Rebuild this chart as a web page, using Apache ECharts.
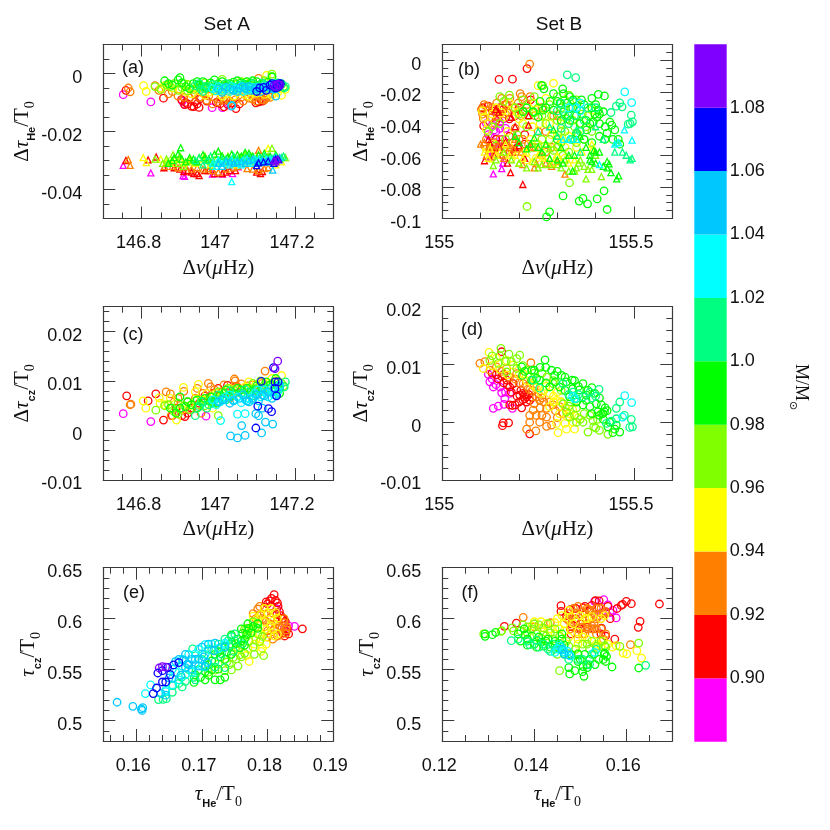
<!DOCTYPE html>
<html>
<head>
<meta charset="utf-8">
<title>Set A / Set B</title>
<style>
  html, body { margin: 0; padding: 0; background: #fff; }
  #chart { width: 830px; height: 830px; }
</style>
<script src="https://cdn.jsdelivr.net/npm/echarts@6/dist/echarts.min.js"></script>
</head>
<body>
<div id="chart"></div>
<script>
// mass bins, lowest first; every panel list below has one row per bin
const massColors = ["#ff00ff", "#ff0000", "#ff8000", "#ffff00", "#80ff00", "#00ff00", "#00ff80", "#00ffff", "#00c8ff", "#0000ff", "#8000ff"]
const massBinTops = [0.90, 0.02, 0.02, 0.02, 0.02, 0.02, 0.02, 0.02, 0.02, 0.02, 0.02]
const massTicks = [0.90, 0.92, 0.94, 0.96, 0.98, 1.00, 1.02, 1.04, 1.06, 1.08]
const massTickLabels = ["0.90", "0.92", "0.94", "0.96", "0.98", "1.0", "1.02", "1.04", "1.06", "1.08"]

// axis ticks
const setAXTicks = [146.8, 147, 147.2]
const setAXMinor = [146.75, 146.8, 146.85, 146.9, 146.95, 147, 147.05, 147.1, 147.15, 147.2, 147.25]
const setBXTicks = [155, 155.5]
const setBXMinor = [155.1, 155.2, 155.3, 155.4, 155.5]
const aYTicks = [-0.04, -0.02, 0]
const aYMinor = [-0.045, -0.04, -0.035, -0.03, -0.025, -0.02, -0.015, -0.01, -0.005, 0, 0.005]
const bYTicks = [-0.1, -0.08, -0.06, -0.04, -0.02, 0]
const bYMinor = [-0.095, -0.09, -0.085, -0.08, -0.075, -0.07, -0.065, -0.06, -0.055, -0.05, -0.045, -0.04, -0.035, -0.03, -0.025, -0.02, -0.015, -0.01, -0.005, 0, 0.005]
const cYTicks = [-0.01, 0, 0.01, 0.02]
const cYMinor = [-0.008, -0.006, -0.004, -0.002, 0, 0.002, 0.004, 0.006, 0.008, 0.01, 0.012, 0.014, 0.016, 0.018, 0.02, 0.022, 0.024]
const dYTicks = [-0.01, 0, 0.01, 0.02]
const dYMinor = [-0.008, -0.006, -0.004, -0.002, 0, 0.002, 0.004, 0.006, 0.008, 0.01, 0.012, 0.014, 0.016, 0.018]
const eXTicks = [0.16, 0.17, 0.18, 0.19]
const eXMinor = [0.156, 0.158, 0.16, 0.162, 0.164, 0.166, 0.168, 0.17, 0.172, 0.174, 0.176, 0.178, 0.18, 0.182, 0.184, 0.186, 0.188]
const fXTicks = [0.12, 0.14, 0.16]
const fXMinor = [0.125, 0.13, 0.135, 0.14, 0.145, 0.15, 0.155, 0.16, 0.165]
const tauCzTicks = [0.5, 0.55, 0.6, 0.65]
const tauCzMinor = [0.49, 0.5, 0.51, 0.52, 0.53, 0.54, 0.55, 0.56, 0.57, 0.58, 0.59, 0.6, 0.61, 0.62, 0.63, 0.64]

// (a) delta nu, delta tau He
const aCircles = [
  [[146.752,-.0073],[146.824,-.0098],[146.906,-.0095],[146.912,-.0106],[146.984,-.0118],[147.011,-.0118],[147.033,-.0112]],
  [[146.759,-.0058],[146.857,-.0085],[146.904,-.009],[146.914,-.01],[146.93,-.0113],[146.936,-.0114],[146.95,-.0117],[146.952,-.0087],[146.995,-.01],[147.024,-.0106],[147.035,-.0102],[147.046,-.0121],[147.005,-.0104],[147.098,-.0101],[147.106,-.0098],[147.115,-.0095],[146.912,-.0107],[146.945,-.0105],[146.92,-.0105],[146.94,-.0098],[146.97,-.0095],[147.015,-.0115],[147.055,-.0105],[147.11,-.0088]],
  [[146.765,-.005],[146.77,-.0063],[146.835,-.0042],[146.845,-.0058],[146.87,-.007],[146.91,-.0082],[146.96,-.0068],[146.975,-.0078],[146.985,-.0105],[147,-.0098],[147.015,-.0092],[147.03,-.0095],[147.045,-.009],[147.06,-.0082],[147.075,-.0078],[147.09,-.0088],[147.1,-.0095],[147.115,-.009],[147.125,-.0085],[147.135,-.0082],[147.105,-.0017],[147.085,-.007],[147.005,-.0088],[146.94,-.0072],[146.88,-.0062],[146.895,-.0078],[146.925,-.0085],[146.95,-.0082],[146.97,-.0092],[147.02,-.0085],[147.04,-.0082],[147.065,-.0095],[147.08,-.0085],[147.095,-.008],[147.11,-.0078],[147.12,-.0092],[147.13,-.0075]],
  [[146.805,-.0042],[146.812,-.0062],[146.88,-.005],[146.9,-.0055],[146.93,-.007],[146.965,-.0075],[147,-.0062],[147.02,-.007],[147.04,-.0078],[147.07,-.0072],[147.09,-.0065],[147.12,-.0072],[147.15,-.0058],[147.165,-.0075],[147.126,-.0006],[147.05,-.0065],[146.95,-.006],[146.86,-.0042],[147.175,-.0055],[147.11,-.0058],[146.85,-.005],[146.87,-.0038],[146.915,-.0062],[146.945,-.0052],[146.975,-.0065],[146.99,-.0055],[147.01,-.0078],[147.03,-.006],[147.06,-.0062],[147.08,-.0078],[147.1,-.0068],[147.135,-.0065],[147.14,-.0075],[147.155,-.0065]],
  [[146.835,-.0045],[146.85,-.0055],[146.865,-.004],[146.885,-.0035],[146.905,-.0048],[146.92,-.0038],[146.935,-.0055],[146.955,-.0048],[146.975,-.004],[146.99,-.006],[147.01,-.002],[147.03,-.0045],[147.045,-.0038],[147.07,-.003],[147.085,-.005],[147.1,-.0042],[147.12,-.0025],[147.14,-.0002],[147.155,-.005],[147.17,-.0045],[147.14,-.001],[146.92,-.006],[146.875,-.0045],[146.895,-.0058],[146.91,-.0035],[146.945,-.0045],[146.965,-.0032],[146.995,-.0045],[147.015,-.0038],[147.05,-.005],[147.06,-.0028],[147.08,-.0038],[147.11,-.0052],[147.13,-.0045],[147.145,-.0055],[147.165,-.0038]],
  [[146.86,-.0025],[146.88,-.004],[146.895,-.0022],[146.9,-.0014],[146.915,-.0045],[146.935,-.0035],[146.95,-.004],[146.96,-.0028],[146.99,-.0022],[147,-.0035],[147.02,-.0042],[147.04,-.003],[147.06,-.0032],[147.075,-.0028],[147.09,-.0025],[147.11,-.0038],[147.13,-.003],[146.97,-.005],[147.14,-.0012],[146.87,-.0035],[146.905,-.0032],[146.925,-.0052],[146.945,-.0028],[146.965,-.0045],[146.98,-.0032],[147.01,-.0028],[147.03,-.0035],[147.05,-.0025],[147.07,-.0038],[147.085,-.0032],[147.1,-.0028],[147.12,-.0045],[147.15,-.0035]],
  [[146.94,-.0042],[146.955,-.0055],[146.97,-.0045],[146.985,-.0038],[147,-.005],[147.02,-.0035],[147.035,-.0052],[147.055,-.004],[147.07,-.005],[147.09,-.0035],[147.105,-.0045],[147.12,-.0038],[147.14,-.004],[147.155,-.0032],[147.175,-.0045],[147.172,-.005],[146.96,-.0062],[146.95,-.0035],[146.965,-.0052],[146.98,-.0048],[146.995,-.0042],[147.01,-.0055],[147.03,-.0042],[147.045,-.0048],[147.065,-.0038],[147.08,-.0045],[147.095,-.0052],[147.115,-.0032],[147.13,-.0048],[147.15,-.0048],[147.165,-.0035]],
  [[146.985,-.0052],[147,-.0045],[147.02,-.0052],[147.035,-.0045],[147.05,-.0055],[147.06,-.0045],[147.075,-.0058],[147.09,-.0048],[147.105,-.0055],[147.12,-.0045],[147.135,-.005],[147.15,-.0042],[147.035,-.0112],[146.995,-.006],[147.01,-.0058],[147.03,-.0062],[147.045,-.0052],[147.065,-.0062],[147.08,-.0052],[147.095,-.0058],[147.115,-.0052],[147.13,-.0045],[147.145,-.0035]],
  [[147,-.0055],[147.02,-.0048],[147.04,-.0058],[147.055,-.005],[147.07,-.0052],[147.085,-.0058],[147.1,-.0048],[147.115,-.005],[147.13,-.0055],[147.145,-.0046],[147.15,-.0078],[147.16,-.004],[147.035,-.011],[147.01,-.0065],[147.03,-.0055],[147.05,-.0062],[147.065,-.0045],[147.08,-.0045],[147.095,-.0052],[147.11,-.0062],[147.125,-.0045],[147.14,-.0052],[147.155,-.0038]],
  [[147.1,-.0062],[147.108,-.005],[147.118,-.0048],[147.125,-.0058],[147.135,-.004],[147.145,-.0042],[147.152,-.0038],[147.16,-.0042],[147.148,-.005],[147.155,-.0048],[147.162,-.0035],[147.14,-.0035],[147.15,-.0045],[147.158,-.0035]],
  [[147.145,-.0042],[147.155,-.0038],[147.15,-.0045],[147.16,-.004]]
]
const aTriangles = [
  [[146.752,-.0317],[146.824,-.0343],[146.908,-.0352],[146.912,-.0355],[146.985,-.0347],[147.011,-.0347],[147.037,-.0345],[147.052,-.0322]],
  [[146.759,-.03],[146.817,-.0298],[146.838,-.0288],[146.858,-.0325],[146.885,-.0325],[146.91,-.0338],[146.93,-.034],[146.936,-.0345],[146.95,-.0352],[146.965,-.0335],[146.99,-.0345],[147.01,-.0345],[147.03,-.0335],[147.045,-.0335],[147.1,-.034],[147.115,-.0338],[146.9,-.033],[146.92,-.0335],[146.945,-.0345],[146.975,-.0335],[147.02,-.034],[147.11,-.0345]],
  [[146.765,-.0297],[146.77,-.0317],[146.86,-.032],[146.93,-.033],[146.985,-.0335],[147,-.034],[147.05,-.032],[147.105,-.0335],[147.105,-.0265],[147.13,-.0325],[146.975,-.0328],[147.075,-.0328],[146.915,-.0322],[146.88,-.032],[146.895,-.0325],[146.945,-.0325],[146.96,-.033],[147.02,-.033],[147.04,-.0325],[147.09,-.033],[147.12,-.0328]],
  [[146.804,-.029],[146.812,-.0307],[146.85,-.0295],[146.875,-.031],[146.9,-.0295],[146.94,-.031],[146.96,-.0295],[147,-.03],[147.03,-.0305],[147.06,-.0295],[147.09,-.0305],[147.13,-.0258],[147.165,-.0305],[147.12,-.03],[146.92,-.0305],[146.865,-.0305],[146.885,-.0295],[146.91,-.031],[146.93,-.03],[146.98,-.0315],[147.015,-.031],[147.045,-.0315],[147.075,-.0305],[147.105,-.031],[147.14,-.0305],[147.15,-.0315]],
  [[146.835,-.0295],[146.855,-.031],[146.87,-.0305],[146.882,-.028],[146.91,-.032],[146.925,-.03],[146.95,-.029],[146.98,-.0305],[147.01,-.0285],[147.04,-.03],[147.07,-.028],[147.1,-.029],[147.14,-.0258],[147.155,-.029],[147.175,-.029],[146.895,-.031],[146.865,-.0295],[146.9,-.0285],[146.94,-.0305],[146.965,-.0285],[146.995,-.0295],[147.025,-.0285],[147.055,-.029],[147.085,-.0285],[147.115,-.0295],[147.13,-.0285],[147.16,-.0295]],
  [[146.87,-.031],[146.885,-.029],[146.902,-.0256],[146.895,-.0278],[146.915,-.0305],[146.935,-.0295],[146.96,-.028],[146.975,-.0295],[146.99,-.0278],[147,-.0268],[147.025,-.029],[147.05,-.028],[147.07,-.0272],[147.09,-.0285],[147.12,-.0275],[147.15,-.028],[146.88,-.03],[146.905,-.0295],[146.925,-.029],[146.945,-.0305],[146.965,-.029],[147.01,-.0285],[147.035,-.0278],[147.06,-.0285],[147.08,-.0275],[147.105,-.028],[147.135,-.0285]],
  [[146.94,-.03],[146.96,-.0315],[146.98,-.0285],[147,-.0305],[147.02,-.0295],[147.04,-.0285],[147.06,-.03],[147.08,-.0285],[147.1,-.0298],[147.12,-.0285],[147.14,-.0292],[147.17,-.0285],[146.985,-.032],[146.95,-.029],[146.97,-.03],[146.99,-.031],[147.01,-.0295],[147.03,-.03],[147.05,-.0295],[147.07,-.029],[147.09,-.03],[147.11,-.029],[147.13,-.0295],[147.15,-.0285],[147.165,-.029]],
  [[146.985,-.031],[147,-.0298],[147.02,-.0308],[147.035,-.0298],[147.05,-.031],[147.065,-.0298],[147.08,-.0305],[147.095,-.0295],[147.11,-.0305],[147.125,-.0295],[147.14,-.03],[147.035,-.0373],[146.995,-.032],[147.01,-.031],[147.03,-.0315],[147.045,-.0305],[147.06,-.0315],[147.075,-.0295],[147.09,-.031],[147.105,-.0295],[147.12,-.0305],[147.135,-.0295],[147.15,-.029]],
  [[147,-.031],[147.02,-.0302],[147.04,-.031],[147.06,-.0305],[147.08,-.03],[147.1,-.031],[147.115,-.0298],[147.135,-.0305],[147.15,-.0295],[147.142,-.0333],[147.16,-.029],[147.01,-.032],[147.03,-.0305],[147.05,-.0305],[147.07,-.031],[147.09,-.0295],[147.105,-.0305],[147.125,-.0305],[147.145,-.0295]],
  [[147.1,-.0318],[147.105,-.0308],[147.118,-.0305],[147.13,-.0302],[147.145,-.03],[147.15,-.0295],[147.158,-.0298],[147.145,-.031]],
  [[147.145,-.03],[147.155,-.0295],[147.15,-.0305]]
]

// (b) delta nu, delta tau He
const bCircles = [
  [[155.13,-.041],[155.125,-.048],[155.14,-.045],[155.15,-.039],[155.16,-.037],[155.135,-.052],[155.12,-.047],[155.145,-.057],[155.165,-.043],[155.13,-.036],[155.115,-.04],[155.135,-.044],[155.15,-.043],[155.155,-.05]],
  [[155.221,-.0052],[155.148,-.0121],[155.183,-.0119],[155.108,-.0415],[155.13,-.032],[155.15,-.03],[155.165,-.028],[155.14,-.038],[155.125,-.055],[155.15,-.053],[155.175,-.048],[155.19,-.035],[155.2,-.055],[155.215,-.047],[155.23,-.025],[155.17,-.033],[155.16,-.06],[155.105,-.03],[155.12,-.029],[155.14,-.033],[155.145,-.036],[155.16,-.031],[155.175,-.037],[155.14,-.05],[155.165,-.053],[155.18,-.056],[155.2,-.03],[155.215,-.053],[155.135,-.057]],
  [[155.228,-.0024],[155.102,-.031],[155.109,-.028],[155.142,-.027],[155.155,-.024],[155.176,-.024],[155.203,-.021],[155.207,-.023],[155.107,-.037],[155.12,-.032],[155.146,-.035],[155.168,-.028],[155.198,-.027],[155.211,-.032],[155.137,-.04],[155.229,-.023],[155.242,-.035],[155.11,-.054],[155.125,-.057],[155.15,-.05],[155.175,-.058],[155.2,-.05],[155.225,-.053],[155.25,-.045],[155.27,-.058],[155.29,-.035],[155.135,-.06],[155.19,-.043],[155.105,-.034],[155.115,-.029],[155.125,-.036],[155.13,-.03],[155.155,-.03],[155.165,-.034],[155.185,-.03],[155.205,-.035],[155.22,-.028],[155.115,-.05],[155.13,-.052],[155.165,-.055],[155.185,-.052],[155.21,-.05],[155.24,-.055],[155.26,-.03],[155.27,-.045],[155.285,-.055],[155.3,-.035]],
  [[155.12,-.04],[155.11,-.036],[155.13,-.034],[155.16,-.036],[155.18,-.032],[155.2,-.037],[155.22,-.03],[155.24,-.027],[155.25,-.016],[155.27,-.024],[155.29,-.0145],[155.17,-.045],[155.19,-.052],[155.15,-.057],[155.125,-.062],[155.21,-.058],[155.235,-.042],[155.26,-.05],[155.28,-.04],[155.3,-.047],[155.32,-.055],[155.245,-.062],[155.22,-.063],[155.39,-.0315],[155.3,-.062],[155.27,-.065],[155.105,-.032],[155.115,-.044],[155.14,-.03],[155.155,-.033],[155.175,-.027],[155.195,-.033],[155.21,-.04],[155.225,-.035],[155.245,-.031],[155.255,-.04],[155.27,-.035],[155.285,-.047],[155.31,-.04],[155.33,-.048],[155.115,-.056],[155.135,-.053],[155.165,-.058],[155.18,-.062],[155.2,-.056],[155.23,-.05],[155.25,-.053],[155.275,-.055],[155.3,-.054],[155.32,-.062],[155.35,-.055]],
  [[155.15,-.04],[155.13,-.042],[155.15,-.023],[155.175,-.022],[155.19,-.03],[155.21,-.025],[155.165,-.05],[155.14,-.054],[155.195,-.047],[155.22,-.042],[155.24,-.023],[155.26,-.035],[155.28,-.028],[155.262,-.016],[155.3,-.038],[155.31,-.03],[155.33,-.022],[155.32,-.045],[155.34,-.05],[155.35,-.03],[155.36,-.04],[155.332,-.0774],[155.221,-.0924],[155.25,-.055],[155.28,-.05],[155.3,-.055],[155.315,-.06],[155.37,-.05],[155.38,-.035],[155.35,-.025],[155.26,-.06],[155.345,-.042],[155.12,-.045],[155.16,-.026],[155.2,-.034],[155.225,-.035],[155.25,-.03],[155.27,-.04],[155.285,-.035],[155.3,-.023],[155.31,-.045],[155.32,-.025],[155.325,-.037],[155.335,-.03],[155.34,-.038],[155.355,-.047],[155.365,-.034],[155.375,-.042],[155.39,-.045],[155.235,-.055],[155.26,-.05],[155.29,-.057],[155.31,-.052],[155.33,-.058],[155.35,-.052],[155.24,-.033]],
  [[155.259,-.0158],[155.265,-.018],[155.29,-.021],[155.314,-.018],[155.316,-.021],[155.333,-.023],[155.363,-.025],[155.39,-.024],[155.407,-.0215],[155.423,-.0225],[155.407,-.0315],[155.42,-.0325],[155.398,-.034],[155.403,-.036],[155.394,-.039],[155.437,-.039],[155.442,-.041],[155.45,-.044],[155.424,-.05],[155.459,-.05],[155.463,-.053],[155.29,-.0315],[155.263,-.0315],[155.237,-.0325],[155.211,-.0325],[155.316,-.0325],[155.333,-.038],[155.359,-.04],[155.377,-.044],[155.35,-.046],[155.329,-.035],[155.281,-.026],[155.255,-.026],[155.307,-.027],[155.359,-.0315],[155.341,-.025],[155.385,-.04],[155.315,-.0857],[155.357,-.089],[155.367,-.0873],[155.379,-.0907],[155.404,-.0876],[155.422,-.0825],[155.43,-.0943],[155.28,-.0958],[155.272,-.099],[155.22,-.03],[155.25,-.036],[155.27,-.03],[155.3,-.026],[155.31,-.038],[155.325,-.027],[155.34,-.03],[155.35,-.035],[155.37,-.028],[155.375,-.038],[155.39,-.03],[155.4,-.028],[155.41,-.034],[155.41,-.04],[155.425,-.042],[155.37,-.05],[155.39,-.052],[155.41,-.048],[155.43,-.046],[155.445,-.05],[155.3,-.05]],
  [[155.326,-.0092],[155.348,-.0109],[155.454,-.029],[155.463,-.0269],[155.469,-.0294],[155.493,-.0347],[155.496,-.0389],[155.485,-.0404],[155.3,-.032],[155.32,-.035],[155.34,-.026],[155.36,-.045],[155.38,-.03],[155.44,-.033],[155.49,-.04],[155.31,-.027],[155.33,-.04],[155.345,-.035],[155.37,-.038],[155.4,-.03],[155.335,-.05],[155.31,-.043]],
  [[155.476,-.0199],[155.494,-.0267],[155.36,-.027],[155.35,-.03],[155.33,-.03],[155.36,-.032]],
  [], [], []
]
const bTriangles = [
  [[155.133,-.0718],[155.155,-.0685],[155.158,-.065],[155.13,-.058],[155.145,-.055],[155.125,-.061]],
  [[155.11,-.0635],[155.178,-.071],[155.21,-.0785],[155.147,-.0328],[155.18,-.036],[155.225,-.041],[155.12,-.05],[155.15,-.055],[155.185,-.058],[155.135,-.06],[155.215,-.062],[155.2,-.054],[155.17,-.065],[155.225,-.035],[155.13,-.055],[155.165,-.052],[155.19,-.055],[155.14,-.031],[155.19,-.042]],
  [[155.1,-.053],[155.11,-.052],[155.12,-.055],[155.145,-.054],[155.175,-.055],[155.24,-.068],[155.19,-.05],[155.245,-.065],[155.285,-.067],[155.21,-.066],[155.13,-.061],[155.23,-.055],[155.32,-.072],[155.16,-.062],[155.115,-.06],[155.135,-.056],[155.155,-.06],[155.185,-.056],[155.205,-.058],[155.255,-.06],[155.27,-.065],[155.3,-.064]],
  [[155.11,-.058],[155.125,-.056],[155.165,-.053],[155.19,-.06],[155.22,-.058],[155.25,-.06],[155.28,-.062],[155.3,-.06],[155.39,-.053],[155.39,-.057],[155.14,-.06],[155.33,-.065],[155.2,-.065],[155.31,-.05],[155.12,-.062],[155.15,-.058],[155.175,-.06],[155.21,-.062],[155.235,-.064],[155.265,-.062],[155.29,-.065],[155.345,-.063],[155.365,-.058]],
  [[155.133,-.0665],[155.14,-.063],[155.2,-.065],[155.22,-.068],[155.26,-.066],[155.3,-.066],[155.36,-.063],[155.38,-.069],[155.375,-.075],[155.35,-.068],[155.28,-.056],[155.32,-.063],[155.345,-.07],[155.4,-.06],[155.415,-.0735],[155.16,-.058],[155.18,-.063],[155.24,-.064],[155.25,-.068],[155.28,-.066],[155.31,-.068],[155.33,-.07],[155.355,-.065],[155.37,-.067],[155.39,-.069]],
  [[155.19,-.048],[155.22,-.056],[155.25,-.055],[155.27,-.053],[155.29,-.044],[155.31,-.055],[155.315,-.065],[155.34,-.07],[155.385,-.06],[155.395,-.057],[155.41,-.058],[155.39,-.064],[155.43,-.064],[155.435,-.0655],[155.44,-.071],[155.455,-.075],[155.46,-.073],[155.24,-.049],[155.36,-.048],[155.4,-.065],[155.345,-.06],[155.2,-.052],[155.23,-.053],[155.26,-.058],[155.28,-.062],[155.3,-.063],[155.33,-.06],[155.385,-.063],[155.4,-.058],[155.375,-.055],[155.42,-.067],[155.43,-.068]],
  [[155.28,-.042],[155.3,-.048],[155.34,-.05],[155.36,-.058],[155.4,-.042],[155.45,-.058],[155.48,-.06],[155.49,-.063],[155.495,-.062],[155.47,-.058],[155.455,-.052],[155.42,-.05],[155.35,-.044],[155.25,-.045]],
  [[155.475,-.044],[155.495,-.0505],[155.46,-.052],[155.35,-.05],[155.33,-.05],[155.315,-.05],[155.45,-.053],[155.41,-.066]],
  [], [], []
]

// (c) delta nu, delta tau cz
const cCircles = [
  [[146.752,.0034],[146.824,.0018],[146.968,.0029]],
  [[146.761,.007],[146.817,.006],[146.837,.0074],[146.857,.0021],[146.913,.0028],[146.905,.003],[146.93,.0045],[146.985,.0075],[147.024,.0091],[147.046,.0089],[146.88,.003],[147,.0085],[147.12,.0088],[146.89,.0045],[146.92,.0035],[146.95,.0055],[146.965,.007],[147.01,.0078],[147.035,.0075]],
  [[146.77,.0052],[146.772,.0053],[146.864,.0078],[146.875,.0074],[146.877,.003],[146.91,.0079],[146.94,.0065],[146.955,.0035],[146.974,.0095],[146.98,.0088],[147.042,.0104],[147.044,.01],[147.122,.012],[147.06,.0094],[147.09,.0092],[147,.006],[146.93,.0042],[147.03,.0065],[146.885,.0058],[146.895,.0065],[146.92,.0058],[146.945,.0085],[146.96,.0075],[146.99,.0082],[147.015,.0092],[147.05,.0088],[147.075,.009],[147.105,.0078],[147.115,.0095]],
  [[146.804,.006],[146.811,.0045],[146.846,.0066],[146.848,.0055],[146.891,.0021],[146.909,.0087],[146.948,.0093],[147.165,.0111],[147.15,.01],[146.97,.0075],[146.925,.005],[147.01,.0075],[147.05,.008],[147.095,.0085],[147.115,.0098],[146.985,.0045],[146.86,.0052],[146.875,.0065],[146.905,.0042],[146.94,.0078],[146.955,.0062],[146.98,.0058],[146.995,.0075],[147.03,.0085],[147.07,.0088],[147.08,.0098],[147.13,.0095],[147.14,.0105]],
  [[146.837,.0041],[146.86,.005],[146.88,.0045],[146.895,.0055],[146.91,.005],[146.895,.0033],[146.94,.006],[146.965,.005],[147,.003],[147.025,.0085],[147.06,.0075],[147.09,.0095],[147.11,.01],[147.13,.009],[147.155,.01],[147.17,.009],[146.985,.0068],[146.87,.0052],[146.885,.0038],[146.925,.0042],[146.95,.0052],[146.975,.0062],[147,.0078],[147.015,.0068],[147.04,.0082],[147.08,.0085],[147.1,.0085],[147.12,.0092],[147.145,.0098],[147.165,.0095]],
  [[146.875,.0045],[146.89,.0035],[146.9,.0068],[146.915,.0048],[146.93,.0052],[146.96,.0058],[146.98,.0068],[146.995,.0055],[147.015,.0075],[147.03,.0068],[147.05,.0085],[147.07,.0072],[147.085,.0078],[147.1,.009],[147.125,.0098],[147.15,.0105],[147.16,.0075],[146.945,.0045],[147.16,.0085],[146.9,.0045],[146.92,.0058],[146.945,.0062],[146.965,.0065],[146.985,.0058],[147.005,.007],[147.02,.0082],[147.04,.0075],[147.06,.0082],[147.075,.0085],[147.095,.0082],[147.115,.0085],[147.135,.0092],[147.155,.009]],
  [[146.94,.003],[146.95,.0048],[146.975,.0052],[146.99,.0062],[147.01,.0065],[147.03,.008],[147.05,.0068],[147.07,.0082],[147.09,.007],[147.11,.0078],[147.13,.0085],[147.15,.008],[147.175,.0098],[147.172,.0088],[146.955,.0058],[146.97,.0045],[146.985,.0055],[147,.0072],[147.02,.0062],[147.04,.0072],[147.06,.0075],[147.08,.0078],[147.1,.0082],[147.12,.0082],[147.14,.0078],[147.16,.0085]],
  [[146.985,.0062],[147.005,.0058],[147.02,.0068],[147.04,.0062],[147.06,.0056],[147.08,.0065],[147.095,.0075],[147.11,.0068],[147.125,.0075],[147.14,.0085],[147.155,.0078],[147.006,.002],[147.05,.0033],[147.07,.0034],[146.995,.0052],[147.015,.0062],[147.03,.0072],[147.05,.0068],[147.07,.0062],[147.09,.0062],[147.105,.0082],[147.12,.0082],[147.13,.0068],[147.145,.0072],[147.16,.0092]],
  [[147.032,-.0011],[147.05,-.0015],[147.07,-.001],[147.061,.001],[147.113,-.0005],[147.142,.0013],[147.123,.0017],[147.098,.0034],[147.105,.003],[147,.0058],[147.03,.0055],[147.055,.0065],[147.075,.006],[147.09,.0065],[147.105,.006],[147.12,.007],[147.14,.0065],[147.15,.0072],[147.115,.0045],[147.01,.0062],[147.04,.006],[147.065,.0072],[147.08,.0058],[147.1,.0072],[147.115,.0072],[147.13,.0078],[147.145,.0085],[147.16,.0088]],
  [[147.112,.0099],[147.098,.0005],[147.103,.0049],[147.131,.0044],[147.139,.0038],[147.144,.0127],[147.148,.0085],[147.152,.007],[147.148,.0098],[147.156,.0098]],
  [[147.155,.014],[147.148,.0125]]
]

// (d) delta nu, delta tau cz
const dCircles = [
  [[155.12,.0083],[155.124,.007],[155.133,.0061],[155.155,.0051],[155.133,.0024],[155.146,.0028],[155.161,.0031],[155.163,.0041],[155.183,.0024],[155.176,.005],[155.15,.0061],[155.13,.0075],[155.14,.0065],[155.165,.0052]],
  [[155.159,-.0001],[155.157,-.0006],[155.173,-.0001],[155.183,.0029],[155.207,.0025],[155.228,-.002],[155.22,.0044],[155.155,.0079],[155.168,.0073],[155.185,.0067],[155.194,.0056],[155.202,.0047],[155.215,.0041],[155.155,.0122],[155.141,.0082],[155.176,.0061],[155.211,.005],[155.228,.0038],[155.176,.003],[155.13,.0085],[155.145,.0075],[155.16,.0068],[155.17,.0065],[155.18,.0052],[155.195,.0045],[155.205,.0055],[155.215,.0048],[155.22,.0035],[155.2,.0035],[155.19,.003],[155.235,.0043],[155.16,.0083],[155.21,.0039],[155.225,.0048]],
  [[155.098,.0102],[155.111,.0105],[155.124,.009],[155.231,.0103],[155.22,-.0012],[155.244,-.0015],[155.272,-.0007],[155.285,-.0005],[155.254,0],[155.228,0],[155.228,.0012],[155.237,.0021],[155.254,.0038],[155.272,.0024],[155.272,.0009],[155.289,.003],[155.306,.0027],[155.315,.0015],[155.211,.0067],[155.228,.0056],[155.246,.0044],[155.194,.0084],[155.168,.0093],[155.141,.0096],[155.155,.0088],[155.175,.0078],[155.19,.0075],[155.2,.0068],[155.22,.0062],[155.235,.0055],[155.25,.005],[155.26,.0042],[155.24,.0032],[155.255,.0025],[155.26,.0012],[155.28,.0035],[155.295,.002],[155.31,.0035],[155.24,.0062],[155.23,.0068],[155.265,.0035],[155.245,.0012],[155.3,.0008]],
  [[155.122,.0121],[155.107,.0093],[155.302,-.0018],[155.324,-.0012],[155.345,-.0012],[155.341,0],[155.32,-.0002],[155.298,-.0002],[155.332,.0015],[155.28,.005],[155.298,.0038],[155.258,.005],[155.237,.0064],[155.28,.0027],[155.306,.0015],[155.168,.0107],[155.141,.0111],[155.185,.0099],[155.228,.0079],[155.211,.0084],[155.13,.0098],[155.15,.0092],[155.17,.0082],[155.2,.0082],[155.22,.0072],[155.245,.006],[155.265,.0055],[155.27,.0062],[155.29,.0045],[155.31,.0035],[155.32,.0025],[155.29,.0035],[155.325,.001],[155.355,.0008],[155.34,.0022],[155.3,.0052]],
  [[155.153,.0128],[155.174,.0118],[155.202,.0116],[155.194,.011],[155.22,.009],[155.38,-.0017],[155.41,-.0014],[155.432,-.0021],[155.367,0],[155.393,.0003],[155.332,.0009],[155.35,0],[155.324,.0018],[155.272,.0078],[155.289,.0067],[155.124,.0107],[155.146,.0102],[155.168,.0087],[155.194,.0093],[155.315,.0032],[155.415,.0015],[155.13,.0115],[155.15,.0115],[155.165,.0105],[155.18,.0105],[155.21,.0098],[155.24,.0085],[155.26,.0085],[155.29,.0072],[155.31,.0055],[155.335,.0035],[155.35,.0025],[155.37,.0015],[155.385,.0012],[155.405,.0005],[155.4,-.001],[155.36,.0005],[155.33,.0028],[155.345,.0012],[155.395,-.0008]],
  [[155.207,.0096],[155.209,.0081],[155.233,.009],[155.246,.0076],[155.268,.0108],[155.285,.009],[155.293,.0081],[155.311,.0081],[155.324,.007],[155.339,.0073],[155.367,.0067],[155.358,.0056],[155.376,.0047],[155.398,.005],[155.402,.0032],[155.406,.0018],[155.423,.0018],[155.419,.0015],[155.385,.0027],[155.367,.003],[155.35,.0035],[155.332,.0044],[155.306,.0061],[155.28,.0061],[155.254,.0073],[155.233,.0073],[155.437,0],[155.454,-.0005],[155.463,-.0017],[155.445,-.0018],[155.432,-.0008],[155.215,.0088],[155.24,.009],[155.255,.0095],[155.27,.0095],[155.3,.0088],[155.32,.0078],[155.345,.0072],[155.355,.0062],[155.38,.0055],[155.39,.006],[155.41,.0042],[155.415,.003],[155.425,.0025],[155.41,.0012],[155.39,.0015],[155.375,.0038],[155.34,.0058],[155.32,.0055],[155.295,.007],[155.27,.0068],[155.43,.002],[155.42,.0005],[155.45,-.0012]],
  [[155.454,.0024],[155.463,.0035],[155.493,.0005],[155.489,-.0009],[155.496,-.0008],[155.454,.0006],[155.441,.0002],[155.428,-.0002],[155.409,.0057],[155.385,.0052],[155.35,.0041],[155.367,.0044],[155.341,.0052],[155.315,.0067],[155.254,.0059],[155.237,.0073],[155.33,.0048],[155.355,.0048],[155.39,.0042],[155.4,.0045],[155.475,.0012]],
  [[155.476,.0046],[155.494,.0034],[155.47,.0009],[155.345,.0041],[155.34,.0045]],
  [], [], []
]

// (e) tau He, tau cz
const eCircles = [
  [[.1814,.6095],[.1841,.5925],[.1825,.5895],[.1832,.593]],
  [[.1853,.59],[.181,.6235],[.1803,.6175],[.1798,.6165],[.1812,.618],[.1816,.612],[.182,.603],[.1822,.6],[.1827,.597],[.183,.59],[.1823,.586],[.1806,.62],[.18,.6145],[.1814,.604],[.1826,.583],[.1795,.611],[.1805,.6125],[.1815,.6155],[.1818,.607],[.1824,.6],[.1828,.5875],[.1832,.585]],
  [[.1785,.6095],[.1795,.6045],[.1805,.601],[.1815,.598],[.1825,.596],[.1822,.591],[.181,.589],[.1795,.592],[.18,.582],[.1808,.58],[.182,.584],[.1792,.6],[.1788,.604],[.1803,.595],[.1829,.592],[.1815,.59],[.1788,.612],[.1778,.605],[.1782,.6],[.1798,.597],[.1808,.6055],[.1812,.5945],[.1818,.593],[.1828,.589],[.1825,.6],[.18,.588],[.1805,.5845],[.1815,.583],[.1828,.5855]],
  [[.1785,.6],[.1795,.61],[.1805,.61],[.1795,.597],[.1805,.593],[.1815,.585],[.18,.585],[.179,.58],[.1792,.571],[.178,.575],[.1768,.564],[.1772,.558],[.1755,.57],[.179,.568],[.1775,.59],[.1812,.606],[.1778,.6025],[.179,.604],[.18,.606],[.1808,.5975],[.1815,.6005],[.1798,.5895],[.1788,.5845],[.181,.583],[.1782,.5795],[.1798,.575],[.177,.5705]],
  [[.1794,.5637],[.1765,.566],[.1758,.5645],[.1745,.5497],[.1755,.5535],[.172,.5495],[.1735,.549],[.1742,.555],[.1748,.562],[.176,.574],[.177,.585],[.1782,.592],[.1772,.578],[.1778,.597],[.1765,.59],[.1752,.572],[.1785,.585],[.178,.565],[.1775,.5875],[.1785,.5955],[.1792,.5825],[.1768,.5825],[.1778,.572],[.176,.5625],[.1752,.5605],[.1738,.5575],[.1725,.5555],[.171,.5475],[.1768,.5905],[.1788,.5775]],
  [[.1688,.5375],[.1705,.54],[.172,.54],[.1728,.54],[.1735,.5425],[.1715,.55],[.1735,.56],[.1745,.565],[.176,.59],[.177,.595],[.1785,.595],[.1775,.586],[.176,.578],[.1765,.58],[.1745,.575],[.173,.572],[.172,.565],[.171,.555],[.1695,.55],[.1745,.584],[.1755,.58],[.1698,.5425],[.171,.5445],[.1725,.5505],[.1715,.5585],[.1728,.5625],[.1742,.5725],[.1752,.5755],[.1762,.5855],[.1772,.5905],[.1778,.5925],[.1768,.5845],[.1758,.5715],[.1738,.5675],[.1705,.548],[.169,.545],[.1725,.5675],[.1785,.5905],[.1765,.574]],
  [[.1655,.5278],[.1634,.5206],[.1641,.5208],[.1646,.5215],[.1656,.5343],[.167,.533],[.1669,.5425],[.1686,.5703],[.168,.55],[.17,.56],[.171,.57],[.1725,.575],[.1735,.58],[.175,.585],[.169,.54],[.1735,.552],[.172,.558],[.1748,.568],[.1665,.5365],[.1675,.5385],[.1688,.5425],[.1695,.5495],[.1705,.5525],[.172,.5525],[.173,.5655],[.174,.5785],[.175,.5785],[.1762,.5755],[.1715,.5695],[.17,.5655],[.1745,.5825],[.1735,.5715]],
  [[.1622,.535],[.1614,.5265],[.1645,.53],[.167,.56],[.1675,.545],[.169,.555],[.1695,.57],[.1715,.575],[.1735,.5745],[.1705,.565],[.168,.565],[.1665,.54],[.1655,.535],[.1645,.5285],[.166,.5475],[.1685,.5475],[.17,.5535],[.1655,.5505],[.167,.5535],[.169,.5655],[.1725,.5705],[.1705,.5745],[.1735,.576]],
  [[.1571,.518],[.1595,.514],[.1608,.5114],[.161,.5127],[.1609,.51],[.1638,.5265],[.1645,.525],[.165,.542],[.1665,.56],[.1675,.565],[.168,.555],[.1685,.56],[.169,.56],[.17,.572],[.1708,.557],[.171,.575],[.172,.576],[.1675,.552],[.1655,.5415],[.166,.558],[.1668,.5445],[.1678,.5555],[.1695,.5605],[.1703,.5625],[.1718,.5685],[.1695,.5535],[.1735,.5725],[.1685,.5505],[.1672,.5595],[.1705,.5535]],
  [[.1633,.5467],[.164,.549],[.1648,.5523],[.1657,.5546],[.1665,.5569],[.1652,.5451],[.164,.5379],[.1645,.5379],[.1631,.532],[.1626,.5265]],
  [[.1635,.5516],[.164,.553],[.1645,.5525]]
]

// (f) tau He, tau cz
const fCircles = [
  [[.1551,.6186],[.1531,.617],[.1578,.6007],[.1571,.6082],[.1546,.6056],[.1539,.6023],[.156,.6135],[.1565,.606]],
  [[.1672,.6144],[.163,.5974],[.1626,.5915],[.1611,.6147],[.16,.617],[.1589,.613],[.1575,.58],[.1335,.5925],[.1361,.5957],[.1533,.6176],[.1458,.6127],[.1458,.6072],[.1478,.6088],[.1546,.5908],[.1506,.6105],[.1541,.6175],[.156,.612],[.158,.61],[.1592,.614],[.152,.608],[.148,.595],[.15,.59],[.147,.603],[.149,.61],[.151,.612],[.1525,.613],[.154,.611],[.1555,.607],[.1565,.6],[.149,.6],[.15,.595],[.1515,.592],[.153,.59],[.1545,.585],[.1555,.583],[.148,.585]],
  [[.1376,.6013],[.1609,.5745],[.1518,.6088],[.147,.6],[.149,.605],[.1505,.598],[.152,.6],[.1535,.61],[.1545,.6],[.155,.605],[.1478,.59],[.1495,.59],[.151,.585],[.1525,.59],[.1535,.585],[.155,.58],[.153,.595],[.151,.605],[.14,.592],[.1435,.596],[.1475,.598],[.1485,.61],[.1495,.612],[.1505,.607],[.1515,.61],[.1525,.608],[.1545,.61],[.1555,.607],[.153,.604],[.154,.603],[.1475,.605],[.148,.593],[.149,.597],[.1505,.592],[.1515,.595],[.1525,.593],[.1535,.59],[.1545,.59],[.1555,.585],[.1495,.585],[.1515,.59],[.1535,.6],[.1505,.585]],
  [[.1623,.5686],[.1633,.5614],[.1601,.5654],[.1593,.5663],[.1578,.5735],[.1415,.597],[.1435,.59],[.145,.6],[.1465,.595],[.148,.602],[.1495,.58],[.151,.6],[.153,.578],[.156,.575],[.1425,.595],[.1445,.585],[.1465,.588],[.1525,.602],[.1553,.603],[.1515,.58],[.14,.597],[.1395,.593],[.1415,.591],[.1445,.596],[.146,.603],[.1475,.608],[.1485,.595],[.15,.603],[.1515,.6],[.1545,.6],[.1495,.575],[.1505,.582],[.1535,.575],[.1545,.573],[.155,.578],[.157,.572],[.1495,.587],[.1475,.582],[.1455,.59],[.142,.587]],
  [[.1627,.5761],[.1586,.5729],[.1455,.549],[.129,.585],[.1329,.5882],[.1352,.591],[.1375,.594],[.1395,.59],[.141,.594],[.143,.595],[.1385,.586],[.1405,.585],[.1425,.583],[.144,.58],[.1553,.5735],[.1535,.573],[.152,.57],[.1505,.575],[.1465,.566],[.149,.57],[.145,.565],[.1328,.5875],[.1355,.588],[.137,.588],[.1385,.592],[.14,.595],[.142,.591],[.1445,.59],[.1385,.58],[.1415,.581],[.1435,.586],[.1455,.583],[.1495,.566],[.1515,.575],[.1525,.578],[.1545,.578],[.1555,.572],[.153,.565],[.1475,.573],[.147,.578]],
  [[.1293,.5827],[.1293,.585],[.1309,.5843],[.1316,.5866],[.1477,.5458],[.1488,.549],[.1508,.5435],[.1569,.5526],[.1627,.5516],[.1553,.5663],[.1557,.563],[.1506,.553],[.1514,.555],[.1532,.555],[.1365,.585],[.137,.578],[.1385,.58],[.14,.575],[.1415,.577],[.1435,.572],[.1445,.575],[.146,.58],[.148,.565],[.15,.56],[.151,.565],[.152,.56],[.155,.56],[.1378,.59],[.1552,.565],[.138,.584],[.1395,.583],[.141,.582],[.1425,.578],[.143,.58],[.1445,.578],[.1455,.57],[.1465,.574],[.1385,.574],[.1405,.572],[.142,.573],[.1495,.558],[.1505,.548],[.1515,.552],[.154,.56],[.1555,.558],[.1495,.565],[.1475,.552],[.146,.585]],
  [[.1642,.5542],[.135,.5784],[.139,.5745],[.141,.572],[.143,.57],[.1445,.57],[.146,.572],[.1475,.56],[.1505,.56],[.1525,.565],[.1535,.57],[.1455,.575],[.1365,.58],[.1385,.578],[.1405,.579],[.142,.575],[.144,.575],[.1435,.568],[.1465,.565],[.152,.555],[.1495,.56]],
  [[.1531,.567],[.1463,.5696],[.1473,.568],[.1455,.573],[.1478,.5635],[.1445,.567],[.145,.5705],[.1465,.5675]],
  [[.1475,.5645],[.1465,.5655],[.146,.57]],
  [], []
]

const panels = [
  { grid: [103.3, 44.5, 230, 174], x: [146.7, 147.3, setAXTicks, setAXMinor], y: [-0.05, 0.01, aYTicks, aYMinor], xName: "nu", yName: "dHe", yGap: 64, tag: "(a)", tagAt: [133, 69], circles: aCircles, triangles: aTriangles },
  { grid: [442.3, 44.5, 230, 174], x: [155, 155.6, setBXTicks, setBXMinor], y: [-0.1, 0.01, bYTicks, bYMinor], xName: "nu", yName: "dHe", yGap: 66, tag: "(b)", tagAt: [469, 71], circles: bCircles, triangles: bTriangles },
  { grid: [103.3, 306.7, 230, 173.3], x: [146.7, 147.3, setAXTicks, setAXMinor], y: [-0.01, 0.025, cYTicks, cYMinor], xName: "nu", yName: "dCz", yGap: 64, tag: "(c)", tagAt: [133, 336], circles: cCircles },
  { grid: [442.3, 306.7, 230, 173.3], x: [155, 155.6, setBXTicks, setBXMinor], y: [-0.01, 0.02, dYTicks, dYMinor], xName: "nu", yName: "dCz", yGap: 66, tag: "(d)", tagAt: [472, 331], circles: dCircles },
  { grid: [103.3, 567.7, 230, 173.3], x: [0.155, 0.19, eXTicks, eXMinor], y: [0.48, 0.65, tauCzTicks, tauCzMinor], xName: "he", yName: "cz", yGap: 60, tag: "(e)", tagAt: [134, 594], circles: eCircles },
  { grid: [442.3, 567.7, 230, 173.3], x: [0.12, 0.17, fXTicks, fXMinor], y: [0.48, 0.65, tauCzTicks, tauCzMinor], xName: "he", yName: "cz", yGap: 60, tag: "(f)", tagAt: [470, 594], circles: fCircles }
]

const AXIS_COLOR = "#3a3a3a"
const SANS = "Liberation Sans"
const SERIF = "Liberation Serif"

const richText = {
  g: { fontFamily: SERIF, fontSize: 21, color: "#111" },
  i: { fontFamily: SERIF, fontSize: 21, fontStyle: "italic", color: "#111" },
  s: { fontFamily: SANS, fontSize: 11, fontWeight: "bold", color: "#111", verticalAlign: "bottom", lineHeight: 29 },
  n: { fontFamily: SERIF, fontSize: 14, color: "#111", verticalAlign: "bottom", lineHeight: 29 }
}
const names = {
  nu: "{g|Δ}{i|ν}{g|(}{i|μ}{g|Hz)}",
  he: "{i|τ}{s|He}{g|/T}{n|0}",
  cz: "{i|τ}{s|cz}{g|/T}{n|0}",
  dHe: "{g|Δ}{i|τ}{s|He}{g|/T}{n|0}",
  dCz: "{g|Δ}{i|τ}{s|cz}{g|/T}{n|0}"
}

// one axis per tick length and side, the frame has ticks on all four sides
function axisSet(gridIndex, range, sides, nameText, nameGap) {
  const [min, max, major, minor] = range
  const base = { type: "value", gridIndex, min, max, splitLine: { show: false } }
  const out = []
  sides.forEach((position, s) => {
    const isLabelSide = s === 0
    const labelShift = position === "left"
      ? { margin: 21, verticalAlign: "top", lineHeight: 9 }
      : { margin: 16, padding: [0, 6, 0, 0] }
    out.push({
      ...base,
      position,
      axisLine: { show: true, onZero: false, lineStyle: { color: AXIS_COLOR, width: 1.2 } },
      axisTick: { show: true, inside: true, length: 12, customValues: major, lineStyle: { color: AXIS_COLOR, width: 1 } },
      axisLabel: isLabelSide
        ? { show: true, customValues: major, fontFamily: SANS, fontSize: 18, color: "#111", hideOverlap: false, showMinLabel: true, showMaxLabel: true, ...labelShift }
        : { show: false },
      name: isLabelSide ? nameText : "",
      nameLocation: "middle",
      nameGap,
      nameTextStyle: { rich: richText }
    })
    out.push({
      ...base,
      position,
      axisLine: { show: false, onZero: false },
      axisTick: { show: true, inside: true, length: 6, customValues: minor, lineStyle: { color: AXIS_COLOR, width: 1 } },
      axisLabel: { show: false }
    })
  })
  return out
}

const grids = []
const xAxes = []
const yAxes = []
const series = []

function addScatter(rows, shape, size, panelIndex) {
  rows.forEach((points, bin) => {
    if (!points.length) return
    series.push({
      type: "scatter",
      xAxisIndex: panelIndex * 4,
      yAxisIndex: panelIndex * 4,
      data: points,
      symbol: shape,
      symbolSize: size,
      silent: true,
      animation: false,
      itemStyle: { color: "rgba(0,0,0,0)", borderColor: massColors[bin], borderWidth: 1.3, opacity: 1 }
    })
  })
}

panels.forEach((p, i) => {
  grids.push({ left: p.grid[0], top: p.grid[1], width: p.grid[2], height: p.grid[3] })
  xAxes.push(...axisSet(i, p.x, ["bottom", "top"], names[p.xName], 39))
  yAxes.push(...axisSet(i, p.y, ["left", "right"], names[p.yName], p.yGap))
  addScatter(p.circles, "circle", 7.5, i)
  if (p.triangles) addScatter(p.triangles, "triangle", 6, i)
})

// colour bar: stacked bars on its own grid, mass on the y axis
const barGrid = grids.length
grids.push({ left: 694.3, top: 44.3, width: 32.4, height: 697.4 })
const barAxis = xAxes.length
xAxes.push({ type: "category", gridIndex: barGrid, data: ["M"], show: false })
yAxes.push({
  type: "value",
  gridIndex: barGrid,
  position: "right",
  min: 0.88,
  max: 1.10,
  splitLine: { show: false },
  axisLine: { show: false },
  axisTick: { show: false },
  axisLabel: {
    show: true,
    customValues: massTicks,
    margin: 3,
    padding: [0, 0, 3, 0],
    fontFamily: SANS,
    fontSize: 18,
    color: "#111",
    formatter: v => massTickLabels[massTicks.findIndex(t => Math.abs(t - v) < 1e-6)]
  },
  name: "{m|M/M}{o|⊙}",
  nameLocation: "middle",
  nameRotate: -90,
  nameGap: 61,
  nameTextStyle: {
    padding: [0, 12, 0, 0],
    rich: {
      m: { fontFamily: SERIF, fontSize: 18, color: "#111" },
      o: { fontFamily: "DejaVu Sans", fontSize: 11, color: "#111", verticalAlign: "bottom", lineHeight: 26 }
    }
  }
})
massColors.forEach((color, bin) => {
  series.push({
    type: "bar",
    xAxisIndex: barAxis,
    yAxisIndex: barAxis,
    stack: "mass",
    barWidth: "100%",
    silent: true,
    animation: false,
    data: [massBinTops[bin]],
    itemStyle: { color }
  })
})

const textStyle = { fontFamily: SANS, fontSize: 18, fontWeight: "normal", color: "#111" }
const titles = [
  { text: "Set A", left: 221.7, top: 10, textAlign: "center", textStyle: { ...textStyle, fontSize: 19 } },
  { text: "Set B", left: 554, top: 10, textAlign: "center", textStyle: { ...textStyle, fontSize: 19 } }
]
panels.forEach(p => {
  titles.push({ text: p.tag, left: p.tagAt[0], top: p.tagAt[1] - 10, textAlign: "center", textStyle, padding: 0 })
})

const chart = echarts.init(document.getElementById("chart"), null, { renderer: "canvas" })
chart.setOption({
  animation: false,
  backgroundColor: "#fff",
  title: titles,
  grid: grids,
  xAxis: xAxes,
  yAxis: yAxes,
  series
})
</script>
</body>
</html>
